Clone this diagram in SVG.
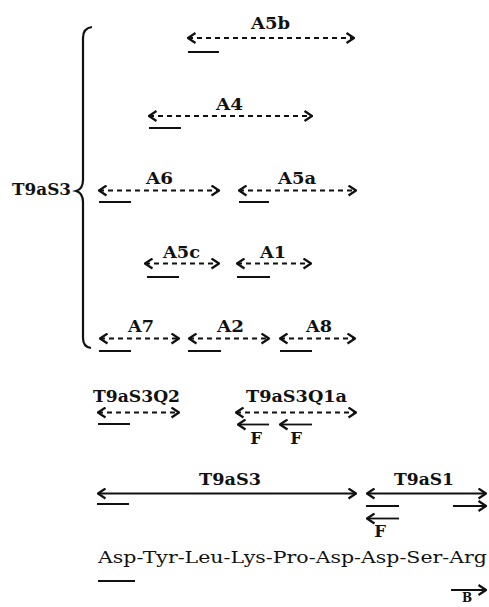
<svg xmlns="http://www.w3.org/2000/svg" width="489" height="607" viewBox="0 0 489 607">
<style>
text{font-family:"DejaVu Serif","Liberation Serif",serif;font-weight:bold;font-size:16.5px;fill:#111}
.pep{font-weight:normal;font-size:17.5px}
.sm{font-size:12px}
.d{stroke:#111;stroke-width:2;fill:none;stroke-dasharray:5 4}
.s{stroke:#111;stroke-width:1.8;fill:none}
.u{stroke:#111;stroke-width:2.2;fill:none}
.br{stroke:#111;stroke-width:2.2;fill:none}
</style>
<defs>
<marker id="h" viewBox="-9 -6 10 12" refX="0" refY="0" markerWidth="10" markerHeight="12" markerUnits="userSpaceOnUse" orient="auto-start-reverse">
<path d="M-7.5,-5 L0,0 L-7.5,5" stroke="#111" stroke-width="2.2" fill="none"/>
</marker>
</defs>
<g id="brace">
<path class="br" d="M92,27 Q83,28 83,38 L83,180 Q83,189 76,191 Q83,193 83,202 L83,338 Q83,347 91,348"/>
<text x="12" y="194.5" textLength="59" lengthAdjust="spacingAndGlyphs">T9aS3</text>
</g>
<g id="connectors">
<path class="d" d="M188,38 H354" marker-start="url(#h)" marker-end="url(#h)"/>
<path class="d" d="M149,116 H312" marker-start="url(#h)" marker-end="url(#h)"/>
<path class="d" d="M99,190.5 H219" marker-start="url(#h)" marker-end="url(#h)"/>
<path class="d" d="M239,190.5 H356" marker-start="url(#h)" marker-end="url(#h)"/>
<path class="d" d="M145,263.5 H219" marker-start="url(#h)" marker-end="url(#h)"/>
<path class="d" d="M237,263.5 H311" marker-start="url(#h)" marker-end="url(#h)"/>
<path class="d" d="M100,338.5 H179" marker-start="url(#h)" marker-end="url(#h)"/>
<path class="d" d="M189,338.5 H269" marker-start="url(#h)" marker-end="url(#h)"/>
<path class="d" d="M280,338.5 H355" marker-start="url(#h)" marker-end="url(#h)"/>
<path class="d" d="M98,412.5 H179" marker-start="url(#h)" marker-end="url(#h)"/>
<path class="d" d="M236,412.5 H356" marker-start="url(#h)" marker-end="url(#h)"/>
<path class="s" d="M269,424.5 H238" marker-end="url(#h)"/>
<path class="s" d="M312,424.5 H280" marker-end="url(#h)"/>
<path class="s" d="M98,493.5 H356" marker-start="url(#h)" marker-end="url(#h)"/>
<path class="s" d="M367,493.5 H486" marker-start="url(#h)" marker-end="url(#h)"/>
<path class="s" d="M453,506 H486" marker-end="url(#h)"/>
<path class="s" d="M399,518.5 H367" marker-end="url(#h)"/>
<path class="s" d="M451,590 H486" marker-end="url(#h)"/>
</g>
<g id="underlines">
<path class="u" d="M188,52 H219 M149,128 H181 M99,202 H131 M239,202 H269 M147,277 H179 M237,277 H270 M99,351 H131 M188,351 H221 M280,351 H312 M98,424 H130 M97,504 H129 M366,506 H399 M98,581 H135"/>
</g>
<g id="A5b"><text x="251" y="28.5" textLength="39" lengthAdjust="spacingAndGlyphs">A5b</text></g>
<g id="A4"><text x="216" y="109.5" textLength="27" lengthAdjust="spacingAndGlyphs">A4</text></g>
<g id="A6"><text x="146" y="183.5" textLength="27" lengthAdjust="spacingAndGlyphs">A6</text></g>
<g id="A5a"><text x="278" y="183.5" textLength="38" lengthAdjust="spacingAndGlyphs">A5a</text></g>
<g id="A5c"><text x="163" y="258" textLength="37" lengthAdjust="spacingAndGlyphs">A5c</text></g>
<g id="A1"><text x="260" y="258" textLength="26" lengthAdjust="spacingAndGlyphs">A1</text></g>
<g id="A7"><text x="128" y="332" textLength="26" lengthAdjust="spacingAndGlyphs">A7</text></g>
<g id="A2"><text x="217" y="332" textLength="27" lengthAdjust="spacingAndGlyphs">A2</text></g>
<g id="A8"><text x="306" y="332" textLength="26" lengthAdjust="spacingAndGlyphs">A8</text></g>
<g id="T9aS3Q2"><text x="93" y="402" textLength="87" lengthAdjust="spacingAndGlyphs">T9aS3Q2</text></g>
<g id="T9aS3Q1a">
<text x="246" y="402" textLength="101" lengthAdjust="spacingAndGlyphs">T9aS3Q1a</text>
<text x="256" y="443.5" text-anchor="middle">F</text>
<text x="296" y="443.5" text-anchor="middle">F</text>
</g>
<g id="T9aS3"><text x="199" y="484.5" textLength="62" lengthAdjust="spacingAndGlyphs">T9aS3</text></g>
<g id="T9aS1">
<text x="394" y="484.5" textLength="60" lengthAdjust="spacingAndGlyphs">T9aS1</text>
<text x="380" y="536.5" text-anchor="middle">F</text>
</g>
<g id="peptide">
<text class="pep" x="98" y="563" textLength="389" lengthAdjust="spacingAndGlyphs">Asp-Tyr-Leu-Lys-Pro-Asp-Asp-Ser-Arg</text>
<text class="sm" x="467" y="602" text-anchor="middle">B</text>
</g>
</svg>
